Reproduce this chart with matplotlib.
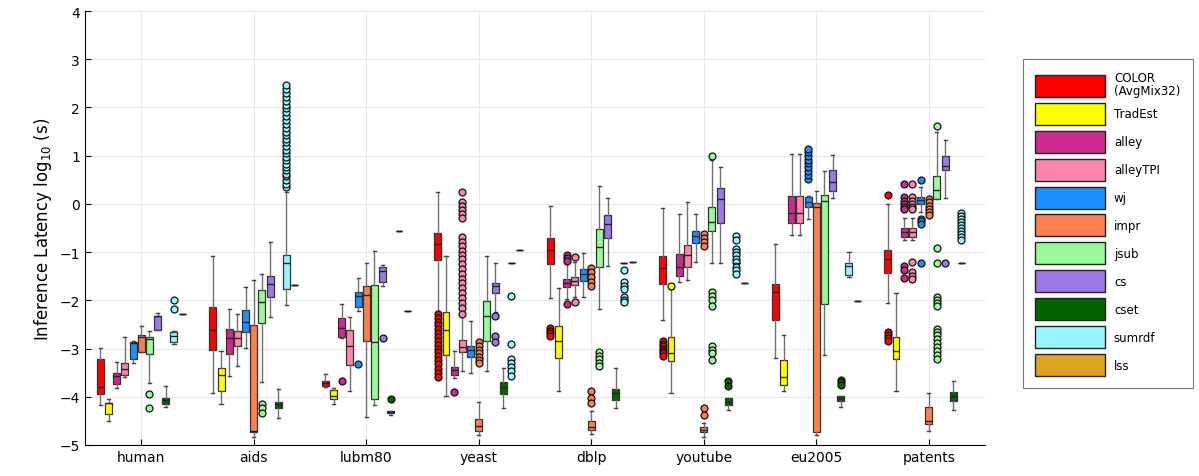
import numpy as np
import matplotlib
matplotlib.use('Agg')
import matplotlib.pyplot as plt
from matplotlib.patches import Patch

datasets = ['human', 'aids', 'lubm80', 'yeast', 'dblp', 'youtube', 'eu2005', 'patents']
methods = ['COLOR\n(AvgMix32)', 'TradEst', 'alley', 'alleyTPI', 'wj', 'impr', 'jsub', 'cs', 'cset', 'sumrdf', 'lss']
colors = ['#ff0000', '#ffff00', '#cc2a8c', '#ff86a8', '#1e8fff', '#ff7f50', '#98fb98',
          '#9b77e8', '#006400', '#98f5ff', '#daa520']

# box stats per dataset: [whislo, q1, med, q3, whishi] (log10 seconds)
color_stats = [[-4.18, -3.94, -3.80, -3.22, -2.99], [-3.92, -3.04, -2.62, -2.13, -1.09],
               [-3.80, -3.78, -3.72, -3.67, -3.53], [-2.22, -1.16, -0.83, -0.60, 0.25],
               [-1.96, -1.25, -0.95, -0.71, -0.04], [-2.41, -1.66, -1.33, -1.09, -0.09],
               [-3.20, -2.40, -1.82, -1.66, -0.83], [-2.06, -1.44, -1.14, -0.95, 0.00]]
color_fliers = [[], [], [],
                [-2.28, -2.36, -2.44, -2.52, -2.60, -2.68, -2.76, -2.84, -2.92, -3.00, -3.08,
                 -3.16, -3.24, -3.32, -3.42, -3.50, -3.58],
                [-2.58, -2.63, -2.68, -2.73], [-2.84, -2.90, -2.95, -3.00, -3.05, -3.10, -3.15],
                [], [0.19, -2.66, -2.72, -2.78, -2.84]]

tradest_stats = [[-4.50, -4.36, -4.13, -4.12, -4.04], [-4.16, -3.87, -3.55, -3.40, -3.06],
                 [-4.14, -4.05, -3.98, -3.86, -3.82], [-3.99, -3.13, -2.61, -2.25, -1.09],
                 [-3.89, -3.20, -2.84, -2.53, -1.75], [-3.93, -3.26, -3.10, -2.77, -1.77],
                 [-3.89, -3.75, -3.58, -3.23, -2.71], [-3.89, -3.22, -3.06, -2.77, -1.85]]
tradest_fliers = [[], [], [], [], [], [-1.70], [], []]

alley_stats = [[-3.81, -3.74, -3.56, -3.51, -3.28], [-3.56, -3.11, -2.79, -2.59, -2.19],
               [-2.78, -2.77, -2.58, -2.37, -2.08], [-3.62, -3.54, -3.44, -3.39, -3.06],
               [-1.97, -1.73, -1.64, -1.56, -1.25], [-1.63, -1.50, -1.31, -1.04, -0.22],
               [-0.64, -0.40, -0.19, 0.17, 1.03], [-0.75, -0.68, -0.59, -0.49, -0.30]]
alley_fliers = [[], [], [-3.68], [-3.91], [-1.07, -1.12, -1.18, -2.08], [], [],
                [0.41, 0.14, 0.07, 0.00, -0.06, -0.11, -1.28, -1.38, -1.54]]

alleytpi_stats = [[-3.60, -3.55, -3.42, -3.30, -2.76], [-3.37, -2.94, -2.79, -2.63, -2.28],
                  [-3.89, -3.35, -2.94, -2.62, -2.34], [-3.46, -3.08, -2.96, -2.82, -2.32],
                  [-1.94, -1.68, -1.60, -1.52, -1.21], [-1.58, -1.31, -1.06, -0.86, 0.03],
                  [-0.64, -0.40, -0.19, 0.17, 1.03], [-0.75, -0.68, -0.59, -0.49, -0.30]]
alleytpi_fliers = [[], [], [],
                   [0.25, 0.03, -0.05, -0.12, -0.20, -0.30, -0.69, -0.78, -0.88, -0.97, -1.05,
                    -1.15, -1.25, -1.35, -1.45, -1.55, -1.65, -1.75, -1.85, -1.95, -2.05,
                    -2.15, -2.28],
                   [-1.11, -2.04], [], [],
                   [0.41, 0.14, 0.07, 0.00, -0.06, -0.11, -1.20, -1.42, -1.50, -1.56]]

wj_stats = [[-3.29, -3.22, -2.88, -2.87, -2.84], [-2.99, -2.65, -2.44, -2.21, -1.73],
            [-2.23, -2.14, -1.90, -1.83, -1.54], [-3.51, -3.18, -3.03, -2.94, -2.42],
            [-1.94, -1.59, -1.45, -1.34, -1.02], [-1.21, -0.81, -0.67, -0.56, -0.21],
            [-0.31, -0.06, 0.03, 0.14, 0.16], [-0.17, 0.00, 0.08, 0.14, 0.34]]
wj_fliers = [[], [], [-3.32], [], [], [],
             [0.52, 0.60, 0.68, 0.76, 0.84, 0.92, 1.00, 1.07, 1.14],
             [0.50, -0.31, -0.36, -0.42, -1.23]]

impr_stats = [[-3.08, -3.08, -2.75, -2.72, -2.53], [-4.84, -4.74, -4.72, -2.51, -1.57],
              [-4.41, -2.84, -1.89, -1.70, -1.23], [-4.79, -4.70, -4.61, -4.46, -4.11],
              [-4.77, -4.68, -4.63, -4.51, -4.30], [-4.83, -4.74, -4.68, -4.62, -4.55],
              [-4.79, -4.74, -0.07, 0.02, 0.26], [-4.72, -4.57, -4.50, -4.22, -3.92]]
impr_fliers = [[], [], [], [-2.87, -2.95, -3.02, -3.10, -3.17, -3.23, -3.29],
               [-1.32, -1.42, -1.52, -1.62, -1.70, -3.87, -4.03, -4.13],
               [-0.62, -0.70, -0.78, -0.87, -4.24, -4.38], [],
               [0.10, 0.03, -0.04, -0.10, -0.17, -0.24]]

jsub_stats = [[-3.71, -3.11, -2.80, -2.75, -2.64], [-3.70, -2.46, -2.04, -1.78, -1.45],
              [-4.17, -4.05, -2.86, -1.68, -0.97], [-3.46, -2.84, -2.32, -2.01, -1.09],
              [-2.18, -1.30, -0.89, -0.53, 0.38], [-1.23, -0.57, -0.38, -0.06, 0.90],
              [-3.13, -2.08, 0.07, 0.19, 0.69], [0.10, 0.10, 0.29, 0.58, 1.50]]
jsub_fliers = [[-3.94, -4.24], [-4.15, -4.24, -4.34], [], [],
               [-3.08, -3.15, -3.22, -3.29, -3.36],
               [0.99, -1.82, -1.90, -2.00, -2.11, -2.94, -3.02, -3.10, -3.23], [],
               [1.62, -0.92, -1.23, -1.94, -2.00, -2.06, -2.11, -2.59, -2.66, -2.72, -2.80,
                -2.88, -2.96, -3.05, -3.13, -3.22]]

cs_stats = [[-2.61, -2.61, -2.33, -2.32, -2.27], [-2.35, -1.94, -1.67, -1.50, -0.80],
            [-1.70, -1.63, -1.39, -1.30, -1.27], [-2.25, -1.85, -1.71, -1.65, -1.23],
            [-1.28, -0.71, -0.42, -0.24, 0.12], [-1.23, -0.40, 0.10, 0.33, 0.76],
            [0.12, 0.27, 0.45, 0.71, 1.02], [0.12, 0.70, 0.79, 1.00, 1.33]]
cs_fliers = [[], [], [-2.79], [-2.32, -2.73, -2.86], [], [], [], [-1.23]]

cset_stats = [[-4.22, -4.15, -4.07, -4.03, -3.78], [-4.43, -4.24, -4.15, -4.10, -3.84],
              [-4.38, -4.33, -4.31, -4.29, -4.29], [-4.24, -3.94, -3.80, -3.69, -3.41],
              [-4.24, -4.06, -3.93, -3.84, -3.40], [-4.27, -4.18, -4.11, -4.03, -4.03],
              [-4.21, -4.08, -4.03, -3.98, -3.98], [-4.27, -4.09, -3.98, -3.91, -3.68]]
cset_fliers = [[], [], [-4.05], [], [], [-3.68, -3.77], [-3.65, -3.70, -3.76], []]

sumrdf_stats = [[-2.90, -2.86, -2.73, -2.65, -2.63], [-2.10, -1.77, -1.23, -1.07, 0.24],
                [-0.57, -0.57, -0.57, -0.57, -0.57], [-1.23, -1.23, -1.23, -1.23, -1.23],
                [-1.23, -1.23, -1.23, -1.23, -1.23], [-1.23, -1.23, -1.23, -1.23, -1.23],
                [-1.52, -1.47, -1.28, -1.23, -1.00], [-1.23, -1.23, -1.23, -1.23, -1.23]]
sumrdf_fliers = [[-2.18, -2.00],
                 [0.34, 0.42, 0.50, 0.57, 0.63, 0.70, 0.76, 0.83, 0.90, 0.97, 1.05, 1.12,
                  1.20, 1.28, 1.35, 1.42, 1.50, 1.58, 1.66, 1.74, 1.82, 1.90, 1.98, 2.06,
                  2.14, 2.22, 2.30, 2.38, 2.47],
                 [], [-1.90, -2.91, -3.22, -3.30, -3.38, -3.46, -3.56],
                 [-1.37, -1.63, -1.70, -1.76, -1.94, -2.00, -2.04],
                 [-0.66, -0.75, -0.93, -1.00, -1.07, -1.14, -1.20, -1.30, -1.38, -1.46], [],
                 [-0.19, -0.25, -0.31, -0.37, -0.43, -0.50, -0.56, -0.62, -0.68, -0.74]]

# lss only has a single value per dataset (no run on patents)
lss_values = [-2.28, -1.68, -2.23, -0.96, -1.20, -1.65, -2.01, None]

all_stats = [color_stats, tradest_stats, alley_stats, alleytpi_stats, wj_stats, impr_stats,
             jsub_stats, cs_stats, cset_stats, sumrdf_stats]
all_fliers = [color_fliers, tradest_fliers, alley_fliers, alleytpi_fliers, wj_fliers,
              impr_fliers, jsub_fliers, cs_fliers, cset_fliers, sumrdf_fliers]

fig = plt.figure(figsize=(11.99, 4.77), dpi=100)
ax = fig.add_axes([85/1199, 31/477, 900/1199, 434/477])

nm = len(methods)
slot = 0.8/nm
width = slot*0.85
wcol = '#707070'

for m in range(nm):
    bxstats = []
    pos = []
    for g in range(len(datasets)):
        if m < nm-1:
            lo, q1, med, q3, hi = all_stats[m][g]
            fl = all_fliers[m][g]
        else:
            if lss_values[g] is None:
                continue
            lo = q1 = med = q3 = hi = lss_values[g]
            fl = []
        bxstats.append(dict(whislo=lo, q1=q1, med=med, q3=q3, whishi=hi, fliers=fl))
        pos.append(g+1-0.4+slot/2+m*slot)
    ax.bxp(bxstats, positions=pos, widths=width, patch_artist=True, showfliers=True,
           boxprops=dict(facecolor=colors[m], edgecolor='#333333', linewidth=0.9),
           medianprops=dict(color='#222222', linewidth=1.0),
           whiskerprops=dict(color=wcol, linewidth=1.0),
           capprops=dict(color='#444444', linewidth=1.0), capwidths=width*0.45,
           flierprops=dict(marker='o', markersize=5, markerfacecolor=colors[m],
                           markeredgecolor='#111111', markeredgewidth=0.9))

ax.set_xlim(0.5, 8.5)
ax.set_ylim(-5, 4)
ax.set_xticks(np.arange(1, len(datasets)+1))
ax.set_xticklabels(datasets, fontsize=10)
ax.set_yticks(np.arange(-5, 5))
ax.tick_params(axis='y', labelsize=10, direction='in', length=4)
ax.tick_params(axis='x', direction='in', length=4)
ax.grid(True, color='#e8e8e8', linewidth=0.8)
ax.set_axisbelow(True)
for s in ['top', 'right']:
    ax.spines[s].set_visible(False)
ax.set_ylabel('Inference Latency log$_{10}$ (s)', fontsize=12)

handles = [Patch(facecolor=c, edgecolor='#222222', linewidth=1.0) for c in colors]
leg = fig.legend(handles, methods, loc='upper left', bbox_to_anchor=(1023/1199, 1-60/477),
                 fontsize=8.5, frameon=True, fancybox=False, edgecolor='#555555',
                 handlelength=5.9, handleheight=2.49, handletextpad=0.75,
                 labelspacing=0.5, borderpad=1.05, borderaxespad=0)
leg.get_frame().set_linewidth(0.8)
for t in leg.get_texts():
    t.set_linespacing(0.95)

fig.savefig('out.png', dpi=100)
